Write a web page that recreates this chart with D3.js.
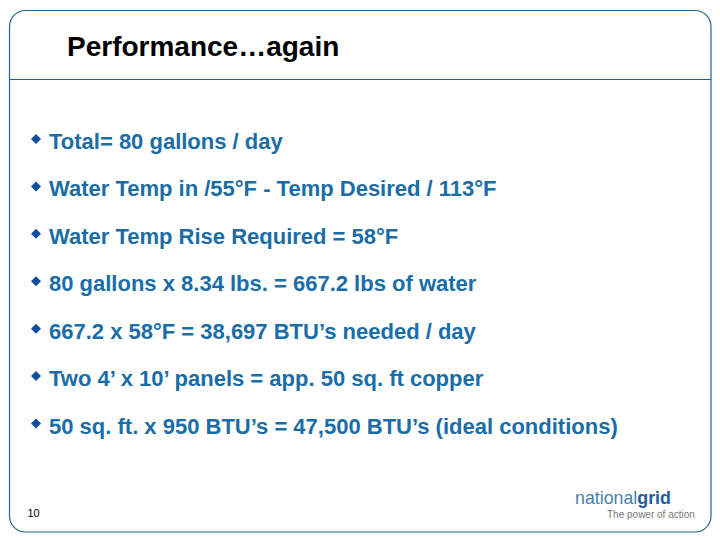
<!DOCTYPE html>
<html><head><meta charset="utf-8">
<script src="https://cdn.jsdelivr.net/npm/d3@7"></script>
<style>html,body{margin:0;padding:0;background:#fff}svg{display:block}text{font-family:"Liberation Sans",Arial,sans-serif}</style>
</head><body><div id="c"></div>
<script>
const titleText = "Performance…again";
const bullets = [
  "Total= 80 gallons / day",
  "Water Temp in /55°F - Temp Desired / 113°F",
  "Water Temp Rise Required = 58°F",
  "80 gallons x 8.34 lbs. = 667.2 lbs of water",
  "667.2 x 58°F = 38,697 BTU’s needed / day",
  "Two 4’ x 10’ panels = app. 50 sq. ft copper",
  "50 sq. ft. x 950 BTU’s = 47,500 BTU’s (ideal conditions)"
];
const pageNumber = "10";
const logoLight = "national", logoBold = "grid", tagline = "The power of action";

const svg = d3.select("#c").append("svg").attr("width",720).attr("height",540);
const line = "#1f6490";
svg.append("rect").attr("x",9.5).attr("y",10.5).attr("width",701.5).attr("height",521.5)
  .attr("rx",16).attr("ry",16).attr("fill","#fff").attr("stroke",line).attr("stroke-width",1.2);
svg.append("line").attr("x1",9.5).attr("x2",711).attr("y1",79.5).attr("y2",79.5).attr("stroke",line).attr("stroke-width",1.1);
svg.append("text").attr("x",67).attr("y",55.5).attr("font-size",28).attr("font-weight","bold").attr("fill","#000").text(titleText);

const y = d3.scalePoint().domain(d3.range(bullets.length)).range([149,433.5]);
const rows = svg.selectAll("g.row").data(bullets).join("g").attr("class","row")
  .attr("transform",(d,i)=>`translate(0,${y(i)})`);
rows.append("path").attr("d",d3.symbol(d3.symbolSquare,50)).attr("fill","#0f4f9e")
  .attr("transform","translate(36,-10) rotate(45)");
rows.append("text").attr("x",49).attr("y",0).attr("font-size",22).attr("font-weight","bold").attr("fill","#1a6da6").text(d=>d);

svg.append("text").attr("x",27.5).attr("y",517).attr("font-size",11).attr("fill","#000").text(pageNumber);
const logo = svg.append("text").attr("x",575).attr("y",503.5).attr("font-size",17.8).attr("fill","#1f5d96");
logo.append("tspan").attr("font-weight","normal").attr("fill","#4a7fae").text(logoLight);
logo.append("tspan").attr("font-weight","bold").text(logoBold);
svg.append("text").attr("x",607).attr("y",518).attr("font-size",10).attr("fill","#777").text(tagline);
</script></body></html>
